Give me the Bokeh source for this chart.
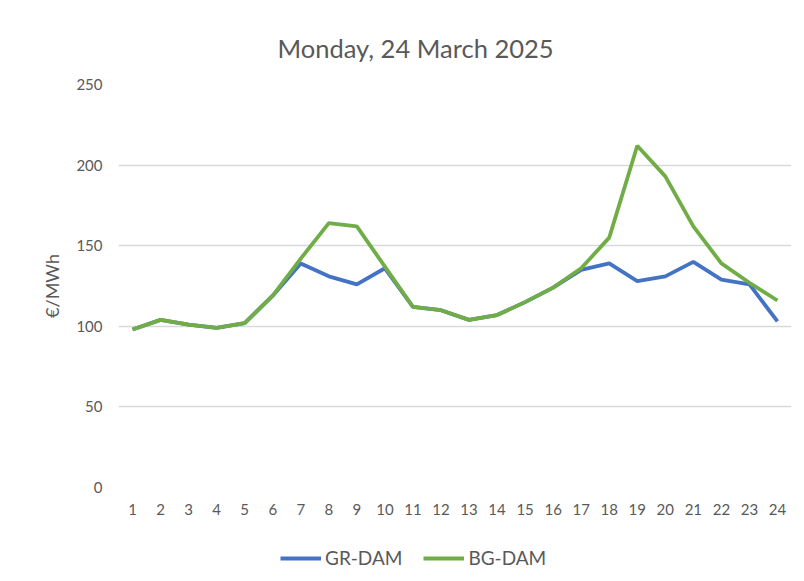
from bokeh.plotting import figure
from bokeh.layouts import column
from bokeh.models import Range1d, FixedTicker, Legend, LegendItem
from bokeh.embed import file_html
from bokeh.resources import INLINE

hours = list(range(1, 25))
gr_dam = [98, 104, 101, 99, 102, 119, 139, 131, 126, 136, 112, 110,
          104, 107, 115, 124, 135, 139, 128, 131, 140, 129, 126, 103]
bg_dam = [98, 104, 101, 99, 102, 119, 142, 164, 162, 137, 112, 110,
          104, 107, 115, 124, 136, 155, 212, 193, 162, 139, 127, 116]
y_ticks = [0, 50, 100, 150, 200, 250]
series_names = ["GR-DAM", "BG-DAM"]
title_text = "Monday, 24 March 2025"
y_label = "€/MWh"

FONT = "Lato"
GREY = "#595959"
BLUE = "#4472C4"
GREEN = "#70AD47"

p = figure(width=796, height=528, output_backend="svg", toolbar_location=None,
           x_range=Range1d(0.5, 24.5), y_range=Range1d(0, 250),
           min_border_left=118, min_border_right=5, min_border_top=84, min_border_bottom=41)

p.title.text = title_text
p.title.align = "left"
p.title.offset = 159
p.title.standoff = 43
p.title.text_font = FONT
p.title.text_font_size = "25.5px"
p.title.text_font_style = "normal"
p.title.text_color = GREY

p.outline_line_color = None
p.xgrid.grid_line_color = None
p.ygrid.grid_line_color = "#d9d9d9"
p.ygrid.grid_line_width = 1.3

p.xaxis.ticker = FixedTicker(ticks=hours)
p.yaxis.ticker = FixedTicker(ticks=y_ticks)
for ax in (p.xaxis, p.yaxis):
    ax.axis_line_color = None
    ax.major_tick_line_color = None
    ax.minor_tick_line_color = None
    ax.major_tick_out = 0
    ax.major_tick_in = 0
    ax.minor_tick_out = 0
    ax.major_label_text_font = FONT
    ax.major_label_text_font_size = "15px"
    ax.major_label_text_color = GREY
p.xaxis.major_label_standoff = 16
p.yaxis.major_label_standoff = 16
p.yaxis.axis_label = y_label
p.yaxis.axis_label_text_font = FONT
p.yaxis.axis_label_text_font_size = "18px"
p.yaxis.axis_label_text_font_style = "normal"
p.yaxis.axis_label_text_color = GREY
p.yaxis.axis_label_standoff = 10

p.line(hours, gr_dam, line_color=BLUE, line_width=3.8)
p.line(hours, bg_dam, line_color=GREEN, line_width=3.8)

# legend strip below the chart (series drawn again but outside its view, only for the legend keys)
lg = figure(width=796, height=50, output_backend="svg", toolbar_location=None,
            x_range=Range1d(-100, -99), y_range=Range1d(-100, -99),
            x_axis_location=None, y_axis_location=None,
            min_border_left=118, min_border_right=5, min_border_top=0, min_border_bottom=0)
lg.outline_line_color = None
lg.grid.grid_line_color = None
k_gr = lg.line(hours, gr_dam, line_color=BLUE, line_width=3.8)
k_bg = lg.line(hours, bg_dam, line_color=GREEN, line_width=3.8)
legend = Legend(items=[LegendItem(label=series_names[0], renderers=[k_gr]),
                       LegendItem(label=series_names[1], renderers=[k_bg])],
                orientation="horizontal", location=(162, 9),
                label_text_font=FONT, label_text_font_size="19px",
                label_text_color=GREY, glyph_width=41, label_standoff=4,
                spacing=21, border_line_color=None, background_fill_alpha=0,
                margin=0, padding=4)
lg.add_layout(legend, "center")

open("out.html", "w").write(file_html(column(p, lg, spacing=0), INLINE))
